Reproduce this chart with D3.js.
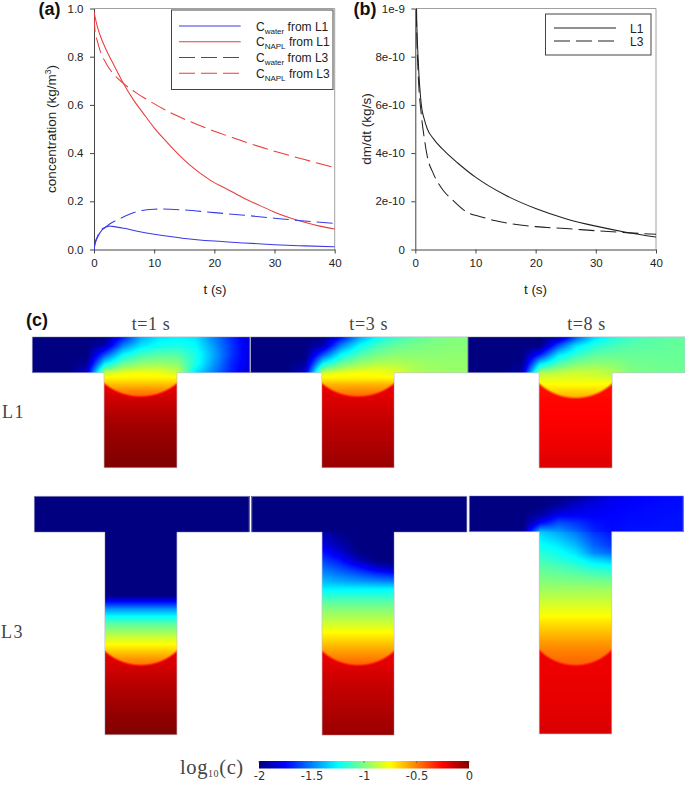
<!DOCTYPE html>
<html><head><meta charset="utf-8">
<script src="https://cdn.jsdelivr.net/npm/d3@7"></script>
<style>html,body{margin:0;padding:0;background:#fff}svg{display:block}</style>
</head><body><svg id="fig" width="685" height="786"></svg>
<script>
// ---------- line chart data ----------
const timeTicks = [0,10,20,30,40];
const concTicks = [0,0.2,0.4,0.6,0.8,1.0];
const rateTicks = [0,2e-10,4e-10,6e-10,8e-10,1e-9];
const rateTickLabels = ["0","2e-10","4e-10","6e-10","8e-10","1e-9"];
const colourTicks = [-2,-1.5,-1,-0.5,0];
const colourTickLabels = ["-2","-1.5","-1","-0.5","0"];
const timeTitles = ["t=1 s","t=3 s","t=8 s"];
const rowTitles = ["L1","L3"];

const napL1T = [0,0.5,1,2,3,4.87,6.5,8.2,10,12.07,14,15.95,19.3,22.6,25,27.5,30,32.5,35,37.5,40];
const napL1C = [0.985,0.93,0.89,0.83,0.78,0.69,0.623,0.565,0.505,0.447,0.396,0.35,0.288,0.244,0.212,0.183,0.155,0.132,0.113,0.097,0.085];
const napL3T = [0,0.2,0.5,1,2,3,4.87,7,8.76,12.07,15.4,18.7,22.6,25,30,35,40];
const napL3C = [0.97,0.9,0.87,0.826,0.773,0.735,0.69,0.65,0.623,0.576,0.537,0.503,0.468,0.447,0.408,0.373,0.34];
const watL1T = [0,0.2,0.5,1,2,2.5,3,5,7,10,15,20,25,30,35,40];
const watL1C = [0,0.025,0.045,0.07,0.093,0.097,0.096,0.088,0.077,0.063,0.046,0.035,0.027,0.02,0.015,0.011];
const watL3T = [0,0.2,0.5,1,2,3,4.3,7.6,10,11.5,15,20,25,30,35,40];
const watL3C = [0,0.03,0.05,0.075,0.095,0.112,0.128,0.16,0.167,0.168,0.164,0.153,0.142,0.13,0.118,0.108];

const rateL1T = [0,0.1,0.2,0.5,1,1.5,2,3,5,7,10,15,20,25,30,35,40];
const rateL1V = [30e-10,14e-10,10e-10,7.8e-10,6e-10,5.4e-10,5e-10,4.6e-10,4.05e-10,3.6e-10,3e-10,2.25e-10,1.7e-10,1.28e-10,0.97e-10,0.72e-10,0.52e-10];
const rateL3T = [0,0.1,0.2,0.5,1,1.5,2,3,4.65,6,8.5,11,13.2,16,20,25,30,35,40];
const rateL3V = [30e-10,13e-10,9.5e-10,7.2e-10,5.6e-10,4.6e-10,3.85e-10,3.15e-10,2.45e-10,2.1e-10,1.56e-10,1.35e-10,1.2e-10,1.07e-10,0.95e-10,0.87e-10,0.78e-10,0.7e-10,0.63e-10];

// ---------- log10(c) fields ----------
const dark = [[-2]];
const chanL1T1 = [
 [-2,-2,-2,-2,-2,-1.72,-1.42,-1.3,-1.27,-1.3,-1.5,-1.68,-1.85],
 [-2,-2,-2,-2,-1.9,-1.5,-1.3,-1.22,-1.2,-1.25,-1.45,-1.65,-1.82],
 [-2,-2,-2,-2,-1.6,-1.25,-1.12,-1.08,-1.08,-1.2,-1.42,-1.65,-1.82],
 [-2,-2,-2,-1.95,-1.28,-1.05,-.97,-.95,-.98,-1.2,-1.45,-1.68,-1.82],
 [-2,-2,-2,-1.85,-.88,-.8,-.77,-.78,-.85,-1.3,-1.5,-1.7,-1.85]];
const chanL1T3 = [
 [-2,-2,-2,-2,-2,-1.75,-1.45,-1.25,-1.15,-1.08,-1.03,-1,-1],
 [-2,-2,-2,-2,-1.9,-1.5,-1.25,-1.12,-1.05,-1.02,-1,-.99,-.98],
 [-2,-2,-2,-2,-1.6,-1.25,-1.1,-1.02,-.98,-.98,-.98,-.97,-.97],
 [-2,-2,-2,-1.95,-1.25,-1.05,-.95,-.9,-.9,-.93,-.95,-.96,-.96],
 [-2,-2,-2,-1.85,-.86,-.8,-.77,-.76,-.8,-.9,-.93,-.95,-.95]];
const chanL1T8 = [
 [-2,-2,-2,-2,-2,-1.95,-1.6,-1.33,-1.2,-1.13,-1.09,-1.07,-1.06],
 [-2,-2,-2,-2,-2,-1.6,-1.3,-1.18,-1.12,-1.08,-1.07,-1.06,-1.05],
 [-2,-2,-2,-2,-1.7,-1.3,-1.15,-1.07,-1.05,-1.05,-1.05,-1.05,-1.05],
 [-2,-2,-2,-1.98,-1.3,-1.1,-1,-.97,-.98,-1.02,-1.03,-1.04,-1.04],
 [-2,-2,-2,-1.9,-.92,-.88,-.85,-.85,-.9,-1,-1.02,-1.03,-1.04]];
const chanL3T8 = [
 [-2,-2,-2,-2,-2,-2,-1.98,-1.88,-1.8,-1.77,-1.75,-1.74,-1.73],
 [-2,-2,-2,-2,-2,-1.95,-1.85,-1.8,-1.77,-1.75,-1.74,-1.73,-1.73],
 [-2,-2,-2,-2,-1.95,-1.8,-1.78,-1.77,-1.75,-1.74,-1.73,-1.73,-1.72],
 [-2,-2,-2,-2,-1.75,-1.6,-1.65,-1.72,-1.74,-1.73,-1.73,-1.72,-1.72],
 [-2,-2,-2,-1.98,-1.38,-1.45,-1.55,-1.68,-1.74,-1.72,-1.72,-1.72,-1.72]];

const stemL1T1 = [[-.85,-.79,-.77,-.79,-.86],[-.72],[-.62],[-.52],[-.44]];
const stemL1T3 = [[-.84,-.78,-.76,-.78,-.82],[-.72],[-.6],[-.52],[-.44]];
const stemL1T8 = [[-.92,-.88,-.85,-.88,-.92],[-.8],[-.74],[-.66],[-.58]];
const stemL3T1 = [[-2],[-2],[-2],[-2],[-2],[-2],[-2],[-2],[-2],[-2],[-1.72],[-1.45],[-1.25],[-1.08],[-.97],[-.85],[-.75],[-.65],[-.55],[-.47]];
const stemL3T3 = [
 [-1.9,-1.98,-2,-2,-2],[-1.85,-1.95,-2,-2,-2],[-1.78,-1.9,-2,-2,-2],[-1.7,-1.82,-1.98,-2,-2],
 [-1.62,-1.72,-1.88,-2,-2],[-1.54,-1.62,-1.72,-1.85,-1.92],[-1.46,-1.52,-1.58,-1.65,-1.7],[-1.38,-1.42,-1.45,-1.48,-1.5],
 [-1.28],[-1.17],[-1.07],[-.99],[-.92],[-.85],[-.77],[-.7],[-.63],[-.56],[-.5],[-.44]];
const stemL3T8 = [
 [-1.35,-1.42,-1.52,-1.65,-1.72],[-1.28,-1.35,-1.45,-1.6,-1.68],[-1.22,-1.28,-1.38,-1.55,-1.64],[-1.17,-1.22,-1.3,-1.48,-1.55],
 [-1.12,-1.17,-1.22,-1.32,-1.38],[-1.07,-1.1,-1.14,-1.2,-1.22],[-1.03,-1.05,-1.07,-1.1,-1.12],[-.99,-1,-1.01,-1.02,-1.03],
 [-.95],[-.9],[-.85],[-.8],[-.75],[-.69],[-.64],[-.59],[-.54],[-.5],[-.47],[-.44]];

const naplL1T1 = [-.22,-.15,-.09,-.05,-.02,0];
const naplL1T3 = [-.22,-.18,-.14,-.11,-.08,-.05];
const naplL1T8 = [-.29,-.26,-.25,-.23,-.21,-.18];
const naplL3T1 = [-.21,-.16,-.11,-.07,-.03,0];
const naplL3T3 = [-.22,-.18,-.14,-.11,-.08,-.05];
const naplL3T8 = [-.22,-.215,-.21,-.2,-.19,-.175];

// ---------- layout ----------
const W = 685, H = 786;
const plotTop = 8.5, plotBottom = 249.5;
const panels = [
 {ch:[32.3,250,336.7,372.7], st:[104,177,467.7], arc:[383.3,396.7], chan:chanL1T1, stem:stemL1T1, napl:naplL1T1},
 {ch:[250.5,467.7,336.7,372.7], st:[321.7,394.3,467.7], arc:[383.3,396.7], chan:chanL1T3, stem:stemL1T3, napl:naplL1T3},
 {ch:[467.7,685,336.7,372.7], st:[539,612.3,468], arc:[383.3,398], chan:chanL1T8, stem:stemL1T8, napl:naplL1T8},
 {ch:[34.3,249.3,496.3,532.3], st:[104.7,177,734.7], arc:[651,665.3], chan:dark, stem:stemL3T1, napl:naplL3T1},
 {ch:[251.7,467,496.3,532.3], st:[322,394.3,735.3], arc:[651,665.3], chan:dark, stem:stemL3T3, napl:naplL3T3},
 {ch:[469.3,683.3,495.7,531.7], st:[539.3,611.7,734], arc:[650,665.3], chan:chanL3T8, stem:stemL3T8, napl:naplL3T8}
];

const svg = d3.select("#fig");
const sans = "'Liberation Sans',Arial,sans-serif", serif = "'Liberation Serif','Times New Roman',serif";
const ink = "#222";

// ---------- jet colour scale ----------
const jetStops = [[0,"#000080"],[.125,"#0000ff"],[.375,"#00ffff"],[.625,"#ffff00"],[.875,"#ff0000"],[1,"#800000"]];
const jetT = d3.scaleLinear().domain([-2,0]).range([0,1]).clamp(true);
const jet = d3.scaleLinear().domain(jetStops.map(d=>d[0])).range(jetStops.map(d=>d[1])).interpolate(d3.interpolateRgb);

// ---------- fields ----------
function sampler(grid, x0, x1, y0, y1){
  const g = grid.map(r => r.length === 1 ? [r[0],r[0],r[0],r[0],r[0]] : r);
  const nr = g.length, nc = g[0].length;
  const gx = d3.scaleLinear().domain([x0,x1]).range([0,nc-1]).clamp(true);
  const gy = d3.scaleLinear().domain([y0,y1]).range([0,Math.max(nr-1,0)]).clamp(true);
  return (x,y)=>{
    const fx = gx(x), fy = nr>1 ? gy(y) : 0;
    const i = Math.min(Math.floor(fx), nc-2), j = Math.min(Math.floor(fy), Math.max(nr-2,0));
    const u = fx-i, v = fy-j, j2 = Math.min(j+1,nr-1);
    const a = d3.interpolateNumber(g[j][i],g[j][i+1])(u), b = d3.interpolateNumber(g[j2][i],g[j2][i+1])(u);
    return a+(b-a)*v;
  };
}
const canvas = document.createElement("canvas");
canvas.width = W; canvas.height = H;
const ctx = canvas.getContext("2d");
ctx.fillStyle = "#fff"; ctx.fillRect(0,0,W,H);
const colourCache = new Map();
function colourOf(v){
  const k = Math.round(v*300);
  if(!colourCache.has(k)) colourCache.set(k, jet(jetT(k/300)));
  return colourCache.get(k);
}
panels.forEach(p=>{
  const [cx0,cx1,cy0,cy1] = p.ch, [sx0,sx1,sBot] = p.st, [yc,yb] = p.arc;
  const chan = sampler(p.chan,cx0,cx1,cy0,cy1);
  const stem = sampler(p.stem,sx0,sx1,cy1,yb);
  const napl = d3.scaleLinear().domain(d3.range(p.napl.length).map(i=>yc+(sBot-yc)*i/(p.napl.length-1))).range(p.napl).clamp(true);
  const mid = (sx0+sx1)/2, hw = (sx1-sx0)/2, sag = yb-yc, R = (sag*sag+hw*hw)/(2*sag), cY = yb-R;
  for(let y=Math.floor(cy0); y<Math.ceil(sBot); y++){
    for(let x=Math.floor(cx0); x<Math.ceil(cx1); x++){
      const px=x+.5, py=y+.5;
      if(py<cy1 && py>=cy0){ ctx.fillStyle=colourOf(chan(px,py)); ctx.fillRect(x,y,1,1); }
      else if(py>=cy1 && py<sBot && px>=sx0 && px<sx1){
        const d=Math.hypot(px-mid,py-cY);
        const m=py<yc-1?0:Math.max(0,Math.min(1,(d-R)/3+.5));
        const v=stem(px,py)*(1-m)+napl(py)*m;
        ctx.fillStyle=colourOf(v); ctx.fillRect(x,y,1,1);
      }
    }
  }
});
const soft = document.createElement("canvas");
soft.width=W; soft.height=H;
const sctx = soft.getContext("2d");
sctx.filter="blur(0.7px)";
sctx.drawImage(canvas,0,0);
svg.append("image").attr("x",0).attr("y",0).attr("width",W).attr("height",H).attr("href",soft.toDataURL("image/png"));

// T outlines
const outline = p=>{
  const [a,b,c,d]=p.ch,[e,f,g]=p.st;
  return d3.line()([[a,c],[b,c],[b,d],[f,d],[f,g],[e,g],[e,d],[a,d]])+"Z";
};
svg.append("g").selectAll("path").data(panels).join("path").attr("d",outline)
  .attr("fill","none").attr("stroke","#c4c4d4").attr("stroke-width",0.7);

// ---------- line plots ----------
function plot(x0,x1,yDomain,yTicks,yFmt){
  const g = svg.append("g");
  const x = d3.scaleLinear().domain([0,40]).range([x0,x1]);
  const y = d3.scaleLinear().domain(yDomain).range([plotBottom,plotTop]);
  const gx = g.append("g").attr("transform",`translate(0,${plotBottom})`)
    .call(d3.axisBottom(x).tickValues(timeTicks).tickFormat(d3.format("d")).tickSize(4).tickSizeOuter(0));
  const gy = g.append("g").attr("transform",`translate(${x0},0)`)
    .call(d3.axisLeft(y).tickValues(yTicks).tickFormat(yFmt).tickSize(4).tickSizeOuter(0));
  [gx,gy].forEach(a=>{
    a.selectAll("text").attr("font-family",sans).attr("font-size",11.5).attr("fill",ink);
    a.selectAll("line,path").attr("stroke","#444").attr("stroke-width",1);
  });
  gx.selectAll("text").attr("dy","0.71em").attr("y",9.5);
  gy.selectAll("text").attr("x",-10.5);
  g.append("path").attr("d",`M${x0},${plotTop}H${x1}V${plotBottom}`).attr("fill","none").attr("stroke","#888").attr("stroke-width",0.8);
  const id = "clip"+Math.round(x0);
  g.append("clipPath").attr("id",id).append("rect").attr("x",x0).attr("y",plotTop).attr("width",x1-x0).attr("height",plotBottom-plotTop);
  const lines = g.append("g").attr("clip-path",`url(#${id})`);
  const draw = (ts,vs,colour,dash,w)=>{
    const pts = d3.zip(ts,vs);
    lines.append("path").datum(pts)
      .attr("d",d3.line().x(d=>x(d[0])).y(d=>y(d[1])).curve(d3.curveMonotoneX))
      .attr("fill","none").attr("stroke",colour).attr("stroke-width",w||1.05)
      .attr("stroke-dasharray",dash||null);
  };
  return {draw,x,y,g};
}
const blue="#3a3ae6", red="#ea3c3c", black="#222", longDash="16 6";
const pa = plot(94,334.7,[0,1],concTicks,d3.format(".1f"));
pa.draw(watL1T,watL1C,blue);
pa.draw(napL1T,napL1C,red);
pa.draw(watL3T,watL3C,blue,longDash);
pa.draw(napL3T,napL3C,red,longDash);
const pb = plot(415.3,656,[0,1e-9],rateTicks,(d,i)=>rateTickLabels[i]);
pb.draw(rateL1T,rateL1V,black);
pb.draw(rateL3T,rateL3V,black,longDash);

function label(txt,x,y,o){
  o=o||{};
  const t=svg.append("text").attr("x",x).attr("y",y).text(txt)
    .attr("font-family",o.family||sans).attr("font-size",o.size||13.5)
    .attr("fill",o.fill||ink).attr("text-anchor",o.anchor||"middle");
  if(o.weight)t.attr("font-weight",o.weight);
  if(o.spacing)t.attr("letter-spacing",o.spacing);
  if(o.rotate)t.attr("transform",`rotate(${o.rotate} ${x} ${y})`);
  return t;
}
label("t (s)",215,294);
label("t (s)",535.5,294);
const yl=label("",56,129,{rotate:-90});
yl.append("tspan").text("concentration (kg/m");
yl.append("tspan").text("3").attr("font-size",8.5).attr("dy",-5);
yl.append("tspan").text(")").attr("dy",5);
label("dm/dt (kg/s)",371,129,{rotate:-90});
label("(a)",49.5,14.5,{weight:"bold",size:18,fill:"#111"});
label("(b)",365,14.5,{weight:"bold",size:18,fill:"#111"});
label("(c)",37,325.5,{weight:"bold",size:18,fill:"#111"});

// legends
svg.append("rect").attr("x",171.5).attr("y",10).attr("width",161.5).attr("height",79.5).attr("fill","#fff").attr("stroke","#444").attr("stroke-width",1);
const legA=[["water","L1",blue,null],["NAPL","L1",red,null],["water","L3",blue,longDash],["NAPL","L3",red,longDash]];
const legY=d3.scaleLinear().domain([0,3]).range([26,73.3]);
legA.forEach((d,i)=>{
  svg.append("line").attr("x1",179).attr("x2",240.7).attr("y1",legY(i)).attr("y2",legY(i))
    .attr("stroke",d[2]).attr("stroke-width",1.1).attr("stroke-dasharray",d[3]);
  const t=label("",256,legY(i)+4.5,{anchor:"start",size:12});
  t.append("tspan").text("C");
  t.append("tspan").text(d[0]).attr("font-size",8).attr("dy",3);
  t.append("tspan").text(" from "+d[1]).attr("dy",-3);
});
svg.append("rect").attr("x",545.5).attr("y",14).attr("width",105.5).attr("height",41).attr("fill","#fff").attr("stroke","#444").attr("stroke-width",1);
[["L1",null,28],["L3",longDash,41]].forEach(d=>{
  svg.append("line").attr("x1",554).attr("x2",616).attr("y1",d[2]).attr("y2",d[2])
    .attr("stroke",black).attr("stroke-width",1.05).attr("stroke-dasharray",d[1]);
  label(d[0],630,d[2]+4.5,{anchor:"start",size:12});
});

// titles
const titleX=[151,368.7,586.5];
timeTitles.forEach((t,i)=>label(t,titleX[i],330,{family:serif,size:18,fill:"#444",spacing:0.6}));
label(rowTitles[0],2,418,{family:serif,size:18,fill:"#444",anchor:"start",spacing:1.5});
label(rowTitles[1],1,637.5,{family:serif,size:18,fill:"#444",anchor:"start",spacing:1.5});
const lg=label("",180,774,{family:serif,size:20.5,fill:"#444",anchor:"start",spacing:0.6});
lg.append("tspan").text("log");
lg.append("tspan").text("10").attr("font-size",10).attr("dy",3);
lg.append("tspan").text("(c)").attr("dy",-3);

// colour bar
const cbX=d3.scaleLinear().domain([-2,0]).range([259,469]);
const defs=svg.append("defs");
const grad=defs.append("linearGradient").attr("id","jetGrad");
grad.selectAll("stop").data(jetStops).join("stop").attr("offset",d=>d[0]).attr("stop-color",d=>d[1]);
svg.append("rect").attr("x",cbX(-2)).attr("y",761).attr("width",cbX(0)-cbX(-2)).attr("height",7.5).attr("fill","url(#jetGrad)");
const cbAxis=svg.append("g").attr("transform","translate(0,768.5)")
  .call(d3.axisBottom(cbX).tickValues(colourTicks).tickFormat((d,i)=>colourTickLabels[i]).tickSize(0).tickSizeOuter(0));
cbAxis.select(".domain").remove();
cbAxis.selectAll("text").attr("font-family","'DejaVu Sans',sans-serif").attr("font-size",11.5).attr("fill","#333").attr("y",3).attr("dy","0.71em");
svg.append("g").selectAll("line").data(colourTicks).join("line")
  .attr("x1",d=>cbX(d)).attr("x2",d=>cbX(d)).attr("y1",761).attr("y2",763).attr("stroke","#555").attr("stroke-width",0.6);
</script></body></html>
